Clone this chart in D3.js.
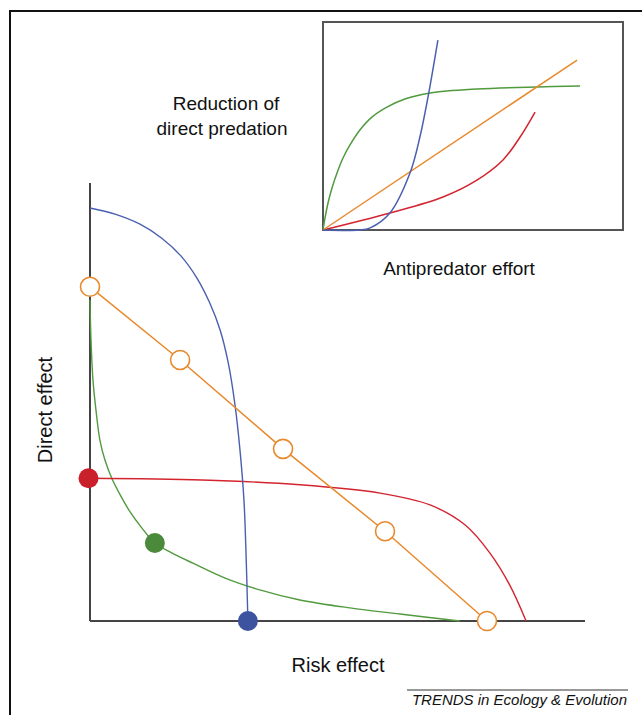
<!DOCTYPE html>
<html>
<head>
<meta charset="utf-8">
<script src="https://cdn.jsdelivr.net/npm/d3@7"></script>
<style>
  body { margin: 0; background: #fff; }
  text { font-family: "Liberation Sans", Arial, sans-serif; fill: #111; }
</style>
</head>
<body>
<div id="chart"></div>
<script>
// main panel: risk effect (x) vs direct effect (y), 0-100 units
var blueX = [0, 5.05, 10.1, 14.5, 18.4, 21.6, 24.2, 26.3, 27.9, 29.3, 30.3, 31.1, 31.5, 31.9];
var blueY = [94.3, 92.9, 90.6, 87.4, 83.3, 78.3, 72.6, 66.4, 59.1, 49.3, 39.0, 27.6, 16.2, 0];

var orangeX = [0, 18.2, 39.0, 59.6, 80.2];
var orangeY = [76.3, 59.6, 39.3, 20.5, 0];

var redX = [0, 22.6, 42.4, 58.6, 68.7, 75.8, 80.8, 84.8, 88.1];
var redY = [32.6, 32.2, 31.1, 29.2, 26.5, 21.9, 15.5, 8.2, 0];

var greenX = [0, 0.2, 0.6, 1.2, 2.0, 3.0, 4.4, 6.1, 8.1, 10.5, 13.1, 16.6, 20.8, 27.3, 34.3, 42.4, 52.5, 62.6, 74.7];
var greenY = [73.3, 64.2, 55.0, 48.2, 41.3, 36.8, 32.6, 28.8, 24.9, 21.2, 17.8, 15.5, 13.2, 9.8, 7.1, 4.8, 3.0, 1.6, 0];

// filled markers: [x, y]
var redDot = [-0.3, 32.6];
var greenDot = [13.1, 17.8];
var blueDot = [31.9, 0];

// inset: antipredator effort (x) vs reduction of direct predation (y)
var inBlueX = [0, 12.3, 15.7, 22.3, 29, 32.3, 35, 38.3];
var inBlueY = [0, 0, 1, 8.2, 27.4, 44.7, 63.9, 91.3];

var inOrangeX = [0, 84.7];
var inOrangeY = [0, 81.7];

var inGreenX = [0, 0.67, 1.67, 3, 4.67, 6.67, 9, 12.3, 16.3, 21.3, 27.3, 35.7, 51.3, 71.3, 85.7];
var inGreenY = [0, 5.8, 13.0, 20.2, 27.4, 34.6, 40.9, 48.1, 54.3, 59.1, 63.0, 65.9, 67.8, 68.8, 69.2];

var inRedX = [0, 22.3, 40, 51.3, 60, 65.7, 70.7];
var inRedY = [0, 8.2, 15.9, 24, 33.7, 44.7, 56.7];

var colors = {blue: '#4a5fb0', orange: '#e8892c', red: '#d3242f', green: '#519a3e'};

var svgWidth = 642;
var svgHeight = 715;

var svg = d3.select('#chart')
    .append('svg')
    .attr('width', svgWidth)
    .attr('height', svgHeight);

// outer frame (runs off the right and bottom)
svg.append('path')
    .attr('d', 'M10,760 L10,11 L700,11')
    .attr('fill', 'none')
    .attr('stroke', '#111')
    .attr('stroke-width', 2);

function zip(xs, ys) {
    return xs.map(function(x, i) { return [x, ys[i]]; });
}

// ---- main panel ----
var xScale = d3.scaleLinear().domain([0, 100]).range([90, 585]);
var yScale = d3.scaleLinear().domain([0, 100]).range([621, 183]);

var line = d3.line()
    .x(d => xScale(d[0]))
    .y(d => yScale(d[1]))
    .curve(d3.curveCatmullRom.alpha(0.5));

var axisG = svg.append('g');
axisG.append('line')
    .attr('x1', xScale(0)).attr('y1', yScale(100))
    .attr('x2', xScale(0)).attr('y2', yScale(0))
    .attr('stroke', '#444').attr('stroke-width', 2);
axisG.append('line')
    .attr('x1', xScale(0)).attr('y1', yScale(0))
    .attr('x2', xScale(100)).attr('y2', yScale(0))
    .attr('stroke', '#444').attr('stroke-width', 2);

var curves = [
    {pts: zip(greenX, greenY), color: colors.green},
    {pts: zip(redX, redY), color: colors.red},
    {pts: zip(blueX, blueY), color: colors.blue}
];

svg.append('g').selectAll('path')
    .data(curves)
    .enter()
    .append('path')
    .attr('d', d => line(d.pts))
    .attr('fill', 'none')
    .attr('stroke', d => d.color)
    .attr('stroke-width', 1.4);

var orangePts = zip(orangeX, orangeY);
svg.append('path')
    .attr('d', d3.line().x(d => xScale(d[0])).y(d => yScale(d[1]))(orangePts))
    .attr('fill', 'none')
    .attr('stroke', colors.orange)
    .attr('stroke-width', 1.5);

svg.append('g').selectAll('circle')
    .data(orangePts)
    .enter()
    .append('circle')
    .attr('cx', d => xScale(d[0]))
    .attr('cy', d => yScale(d[1]))
    .attr('r', 9.5)
    .attr('fill', '#fff')
    .attr('stroke', colors.orange)
    .attr('stroke-width', 1.6);

var dots = [
    {p: redDot, color: '#c9202b'},
    {p: greenDot, color: '#4a8a3a'},
    {p: blueDot, color: '#3d53a0'}
];
svg.append('g').selectAll('circle')
    .data(dots)
    .enter()
    .append('circle')
    .attr('cx', d => xScale(d.p[0]))
    .attr('cy', d => yScale(d.p[1]))
    .attr('r', 10)
    .attr('fill', d => d.color);

svg.append('text')
    .attr('x', 338).attr('y', 672)
    .attr('text-anchor', 'middle')
    .attr('font-size', '20px')
    .text('Risk effect');

svg.append('text')
    .attr('transform', 'translate(52,410) rotate(-90)')
    .attr('text-anchor', 'middle')
    .attr('font-size', '20px')
    .text('Direct effect');

// ---- inset ----
var ixScale = d3.scaleLinear().domain([0, 100]).range([323, 623]);
var iyScale = d3.scaleLinear().domain([0, 100]).range([230, 22]);

var iline = d3.line()
    .x(d => ixScale(d[0]))
    .y(d => iyScale(d[1]))
    .curve(d3.curveCatmullRom.alpha(0.5));

svg.append('rect')
    .attr('x', ixScale(0)).attr('y', iyScale(100))
    .attr('width', ixScale(100) - ixScale(0))
    .attr('height', iyScale(0) - iyScale(100))
    .attr('fill', 'none')
    .attr('stroke', '#555')
    .attr('stroke-width', 2);

var insetCurves = [
    {pts: zip(inGreenX, inGreenY), color: colors.green},
    {pts: zip(inRedX, inRedY), color: colors.red},
    {pts: zip(inOrangeX, inOrangeY), color: colors.orange},
    {pts: zip(inBlueX, inBlueY), color: colors.blue}
];

svg.append('g').selectAll('path')
    .data(insetCurves)
    .enter()
    .append('path')
    .attr('d', d => iline(d.pts))
    .attr('fill', 'none')
    .attr('stroke', d => d.color)
    .attr('stroke-width', 1.5);

svg.append('text')
    .attr('x', 226).attr('y', 110)
    .attr('text-anchor', 'middle')
    .attr('font-size', '19px')
    .text('Reduction of');
svg.append('text')
    .attr('x', 222).attr('y', 135)
    .attr('text-anchor', 'middle')
    .attr('font-size', '19px')
    .text('direct predation');

svg.append('text')
    .attr('x', 459).attr('y', 275)
    .attr('text-anchor', 'middle')
    .attr('font-size', '19px')
    .text('Antipredator effort');

// ---- footer ----
svg.append('line')
    .attr('x1', 407).attr('y1', 690)
    .attr('x2', 628).attr('y2', 690)
    .attr('stroke', '#333')
    .attr('stroke-width', 1);

svg.append('text')
    .attr('x', 627).attr('y', 705)
    .attr('text-anchor', 'end')
    .attr('font-size', '15px')
    .attr('font-style', 'italic')
    .text('TRENDS in Ecology & Evolution');
</script>
</body>
</html>
